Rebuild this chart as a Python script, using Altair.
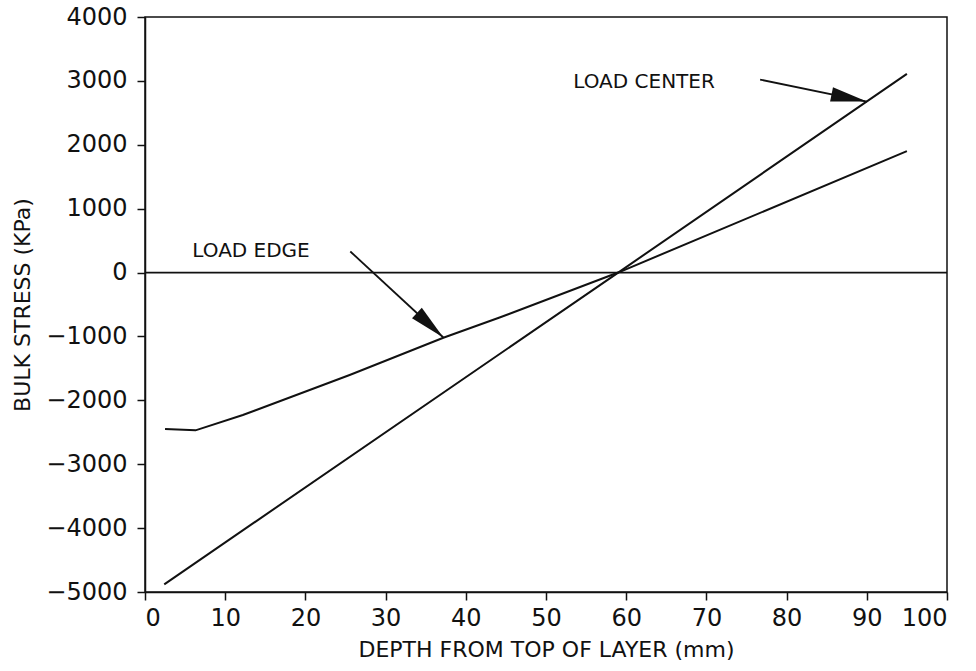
import math

import altair as alt
import pandas as pd

# Bulk stress through the layer depth, for two load positions
center_depth = [2.4, 59.0, 95.0]
center_stress = [-4880, 0, 3110]

edge_depth = [2.5, 6.3, 12.2, 25.6, 37.2, 44.3, 59.0, 95.0]
edge_stress = [-2450, -2470, -2230, -1600, -1020, -700, 0, 1900]

# Callout labels and their arrows (data units)
label_text = ["LOAD CENTER", "LOAD EDGE"]
label_x = [53.4, 5.9]
label_y = [2990, 330]
arrow_from_x = [76.7, 25.6]
arrow_from_y = [3020, 330]
arrow_to_x = [90.0, 37.2]
arrow_to_y = [2676, -1017]

X_TICKS = list(range(0, 101, 10))
Y_TICKS = list(range(-5000, 4001, 1000))

W, H = 802, 575
X_DOM = [0, 100]
Y_DOM = [-5000, 4000]
INK = "#111111"
FONT = "DejaVu Sans"

lines = pd.concat(
    [
        pd.DataFrame({"depth": center_depth, "stress": center_stress, "case": "center"}),
        pd.DataFrame({"depth": edge_depth, "stress": edge_stress, "case": "edge"}),
    ],
    ignore_index=True,
)


def to_px(x, y):
    px = (x - X_DOM[0]) / (X_DOM[1] - X_DOM[0]) * W
    py = (Y_DOM[1] - y) / (Y_DOM[1] - Y_DOM[0]) * H
    return px, py


shaft_rows = []
head_rows = []
for i in range(len(label_text)):
    shaft_rows.append({"depth": arrow_from_x[i], "stress": arrow_from_y[i], "arrow": i, "o": 0})
    shaft_rows.append({"depth": arrow_to_x[i], "stress": arrow_to_y[i], "arrow": i, "o": 1})
    x0, y0 = to_px(arrow_from_x[i], arrow_from_y[i])
    x1, y1 = to_px(arrow_to_x[i], arrow_to_y[i])
    ang = math.degrees(math.atan2(x1 - x0, -(y1 - y0))) % 360
    head_rows.append({"depth": arrow_to_x[i], "stress": arrow_to_y[i], "angle": ang})
shafts = pd.DataFrame(shaft_rows)
heads = pd.DataFrame(head_rows)
labels = pd.DataFrame({"text": label_text, "depth": label_x, "stress": label_y})

x_scale = alt.Scale(domain=X_DOM, nice=False, zero=False)
y_scale = alt.Scale(domain=Y_DOM, nice=False, zero=False)

x_axis = alt.Axis(
    values=X_TICKS,
    format="d",
    title="DEPTH FROM TOP OF LAYER (mm)",
    grid=False,
    tickSize=8,
    labelPadding=6,
    labelFont=FONT,
    labelFontSize=24,
    labelColor=INK,
    titleFont=FONT,
    titleFontSize=22,
    titleFontWeight="normal",
    titleColor=INK,
    titleX=W / 2,
    titleY=57,
    titleBaseline="middle",
    domainColor=INK,
    domainWidth=1.5,
    tickColor=INK,
    tickWidth=1.5,
)
y_axis = alt.Axis(
    values=Y_TICKS,
    format="d",
    title="BULK STRESS (KPa)",
    grid=False,
    tickSize=8,
    labelPadding=10,
    labelFont=FONT,
    labelFontSize=24,
    labelColor=INK,
    titleFont=FONT,
    titleFontSize=22,
    titleFontWeight="normal",
    titleColor=INK,
    titleX=-123,
    titleY=H / 2,
    titleBaseline="middle",
    titleAlign="center",
    titleAngle=270,
    domainColor=INK,
    domainWidth=1.5,
    tickColor=INK,
    tickWidth=1.5,
)

X = alt.X("depth:Q", scale=x_scale, axis=x_axis)
Y = alt.Y("stress:Q", scale=y_scale, axis=y_axis)

zero_line = (
    alt.Chart(pd.DataFrame({"stress": [0]}))
    .mark_rule(color=INK, strokeWidth=1.8)
    .encode(y=alt.Y("stress:Q", scale=y_scale))
)

curves = (
    alt.Chart(lines)
    .mark_line(color=INK, strokeWidth=2)
    .encode(x=X, y=Y, detail="case:N")
)

shaft_layer = (
    alt.Chart(shafts)
    .mark_line(color=INK, strokeWidth=1.8)
    .encode(
        x=alt.X("depth:Q", scale=x_scale),
        y=alt.Y("stress:Q", scale=y_scale),
        detail="arrow:N",
        order="o:Q",
    )
)

head_layer = (
    alt.Chart(heads)
    .mark_point(
        shape="M0,0L0.2,1L-0.2,1Z",
        filled=True,
        fill=INK,
        strokeWidth=0,
        opacity=1,
        size=5184,
    )
    .encode(
        x=alt.X("depth:Q", scale=x_scale),
        y=alt.Y("stress:Q", scale=y_scale),
        angle=alt.Angle("angle:Q", scale=None),
    )
)

label_layer = (
    alt.Chart(labels)
    .mark_text(align="left", baseline="middle", font=FONT, fontSize=20, color=INK)
    .encode(
        x=alt.X("depth:Q", scale=x_scale),
        y=alt.Y("stress:Q", scale=y_scale),
        text="text:N",
    )
)

chart = (
    alt.layer(zero_line, curves, shaft_layer, head_layer, label_layer)
    .properties(
        width=W,
        height=H,
        autosize=alt.AutoSizeParams(type="none"),
        padding={"left": 145, "top": 17, "right": 29, "bottom": 79},
        background="white",
    )
    .configure_view(stroke=INK, strokeWidth=1.5)
)

chart.save("out.html", embed_options={"renderer": "svg", "actions": False})
